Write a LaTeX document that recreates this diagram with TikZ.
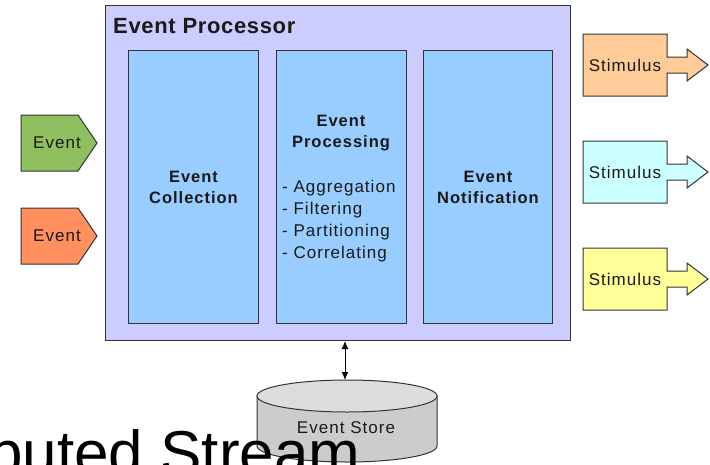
\documentclass[tikz,border=0pt]{standalone}
\usepackage{fontspec}
\setmainfont{Liberation Sans}
\newfontfamily\lsf[LetterSpace=6]{Liberation Sans}
\newfontfamily\lsftitle[LetterSpace=3]{Liberation Sans}
\usetikzlibrary{arrows.meta}
\definecolor{procfill}{HTML}{CCCCFF}
\definecolor{innerfill}{HTML}{99CCFF}
\definecolor{evgreen}{HTML}{8FBF5F}
\definecolor{evorange}{HTML}{FF8F5F}
\definecolor{stimA}{HTML}{FFCC99}
\definecolor{stimB}{HTML}{CCFFFF}
\definecolor{stimC}{HTML}{FFFF99}
\definecolor{storebody}{HTML}{CCCCCC}
\definecolor{storetopc}{HTML}{DDDDDD}
\definecolor{edge}{HTML}{333333}
\definecolor{txt}{HTML}{1A1A1A}
\begin{document}
\begin{tikzpicture}[x=1pt,y=-1pt,
  shapeline/.style={draw=edge, line width=1pt},
  procbox/.style={shapeline, fill=procfill, minimum width=465pt, minimum height=335pt, inner sep=0pt, anchor=north west},
  inbox/.style={shapeline, fill=innerfill, minimum width=130pt, minimum height=273pt, inner sep=0pt, anchor=north west, align=center, text=txt, font=\lsf\bfseries\fontsize{16.5}{21}\selectfont},
  lbl/.style={inner sep=0pt, text=txt, font=\lsf\fontsize{17}{22}\selectfont},
  boldlbl/.style={inner sep=0pt, text=txt, align=center, font=\lsf\bfseries\fontsize{16.5}{21}\selectfont},
  listlbl/.style={inner sep=0pt, text=txt, align=left, font=\lsf\fontsize{17}{22}\selectfont},
  biarrow/.style={draw=black, line width=1pt, {Latex[length=8pt,width=7pt]}-{Latex[length=8pt,width=7pt]}}
]
\useasboundingbox (0,0) rectangle (710,464);
\clip (0,0) rectangle (710,464);

% Event Processor
\node[procbox] (proc) at (105,5) {};
\node[anchor=base west, inner sep=0pt, text=txt, font=\lsftitle\bfseries\fontsize{22}{26}\selectfont] (proctitle) at (113,33) {Event Processor};

% inner boxes
\node[inbox] (coll) at (128,50) {Event\\Collection};
\node[inbox] (procg) at (276,50) {};
\node[inbox, minimum width=129pt] (notif) at (423,50) {Event\\Notification};
\node[boldlbl] (procgtitle) at (341,133.5) {Event\\Processing};
\node[listlbl, anchor=west] (procglist) at (282,221.5) {- Aggregation\\- Filtering\\- Partitioning\\- Correlating};

% input events
\filldraw[shapeline, fill=evgreen] (21,115) -- (78,115) -- (97,143) -- (78,171) -- (21,171) -- cycle;
\node[lbl] (ev1) at (57,143) {Event};
\filldraw[shapeline, fill=evorange] (21,208) -- (78,208) -- (97,236) -- (78,264) -- (21,264) -- cycle;
\node[lbl] (ev2) at (57,236) {Event};

% stimuli
\foreach \yy/\col/\nm in {65/stimA/s1,172/stimB/s2,279/stimC/s3}{
  \filldraw[shapeline, fill=\col] (583,\yy-31) -- (667,\yy-31) -- (667,\yy-8) -- (687,\yy-8) -- (687,\yy-16) -- (708,\yy) -- (687,\yy+16) -- (687,\yy+8) -- (667,\yy+8) -- (667,\yy+31) -- (583,\yy+31) -- cycle;
  \node[lbl] (\nm) at (625,\yy) {Stimulus};
}

% event store
\filldraw[shapeline, fill=storebody] (257,396) -- (257,446) arc[start angle=180, end angle=0, x radius=90, y radius=16] -- (437,396) -- cycle;
\filldraw[shapeline, fill=storetopc] (347,396) ellipse[x radius=90, y radius=16];
\coordinate (storetop) at (345,380);
\node[lbl] (store) at (346,428) {Event Store};
\draw[biarrow] (proc.south -| storetop) -- (storetop);

% slide title fragment
\node[anchor=base west, inner sep=0pt, text=black, font=\fontsize{62}{70}\selectfont] (slidetitle) at (-12,474) {buted Stream};
\end{tikzpicture}
\end{document}
